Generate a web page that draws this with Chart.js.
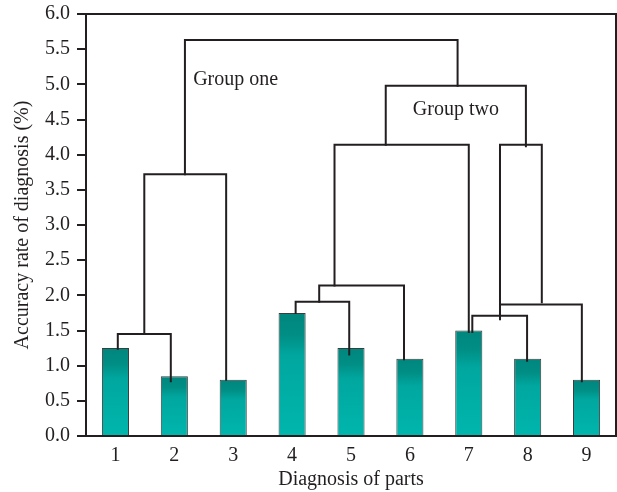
<!DOCTYPE html>
<html>
<head>
<meta charset="utf-8">
<script src="https://cdn.jsdelivr.net/npm/chart.js@4"></script>
<style>
  html, body { margin: 0; padding: 0; background: #fff; }
  #wrap { width: 617px; height: 492px; }
</style>
</head>
<body>
<div id="wrap"><canvas id="chart"></canvas></div>
<script>
// data
const parts = ["1", "2", "3", "4", "5", "6", "7", "8", "9"];
const accuracy = [1.25, 0.85, 0.8, 1.75, 1.25, 1.1, 1.5, 1.1, 0.8];
const yTicks = [0, 0.5, 1, 1.5, 2, 2.5, 3, 3.5, 4, 4.5, 5, 5.5, 6];

// dendrogram links: [left x, right x, join height, left leg bottom, right leg bottom]
// x is in category index units (0 = part "1")
const links = [
  [0.04, 0.94, 1.45, 1.24, 0.78],
  [0.49, 1.88, 3.72, 1.45, 0.80],
  [1.18, 5.81, 5.63, 3.72, 4.98],
  [4.59, 6.97, 4.98, 4.14, 4.12],
  [3.72, 6.00, 4.14, 2.14, 1.48],
  [3.46, 4.90, 2.14, 1.91, 1.09],
  [3.06, 3.97, 1.91, 1.75, 1.16],
  [6.53, 7.24, 4.14, 1.66, 1.90],
  [6.53, 7.92, 1.87, 1.87, 0.78],
  [6.06, 6.99, 1.71, 1.48, 1.07]
];

// group captions: [text, left x (index), y value]
const groupLabels = [
  ["Group one", 1.32, 5.06],
  ["Group two", 5.05, 4.64]
];

const ink = "#231f20";
const serif = "'Liberation Serif', 'DejaVu Serif', serif";

function barGradient(context) {
  const chart = context.chart;
  const y = chart.scales.y;
  if (!chart.chartArea || !y || context.dataIndex === undefined) return "#00aba3";
  const top = y.getPixelForValue(accuracy[context.dataIndex]);
  const base = y.getPixelForValue(0);
  const g = chart.ctx.createLinearGradient(0, top, 0, base);
  g.addColorStop(0, "#00867d");
  g.addColorStop(0.18, "#008e85");
  g.addColorStop(0.35, "#00a79f");
  g.addColorStop(1, "#00b6ad");
  return g;
}

const dendrogram = {
  id: "dendrogram",
  afterDatasetsDraw(chart) {
    const { ctx, chartArea, scales: { x, y } } = chart;
    ctx.save();
    ctx.strokeStyle = ink;
    ctx.lineWidth = 2;
    ctx.lineCap = "square";
    links.forEach(([xl, xr, h, bl, br]) => {
      ctx.beginPath();
      ctx.moveTo(x.getPixelForValue(xl), y.getPixelForValue(bl));
      ctx.lineTo(x.getPixelForValue(xl), y.getPixelForValue(h));
      ctx.lineTo(x.getPixelForValue(xr), y.getPixelForValue(h));
      ctx.lineTo(x.getPixelForValue(xr), y.getPixelForValue(br));
      ctx.stroke();
    });

    ctx.fillStyle = ink;
    ctx.font = "20px " + serif;
    ctx.textBaseline = "middle";
    ctx.textAlign = "left";
    groupLabels.forEach(([text, gx, gy]) => {
      ctx.fillText(text, x.getPixelForValue(gx), y.getPixelForValue(gy));
    });

    // frame around the plot
    ctx.lineCap = "butt";
    ctx.strokeRect(chartArea.left, chartArea.top, chartArea.right - chartArea.left, chartArea.bottom - chartArea.top);
    ctx.restore();
  }
};

new Chart(document.getElementById("chart"), {
  type: "bar",
  data: {
    labels: parts,
    datasets: [{
      data: accuracy,
      backgroundColor: barGradient,
      borderColor: "#3c3c3c",
      borderWidth: 1,
      barPercentage: 0.46,
      categoryPercentage: 1
    }]
  },
  options: {
    responsive: true,
    maintainAspectRatio: false,
    animation: false,
    layout: { padding: { top: 14, right: 1, left: 0, bottom: 0 } },
    plugins: { legend: { display: false }, tooltip: { enabled: false } },
    scales: {
      x: {
        grid: { display: false },
        border: { display: false },
        ticks: { color: ink, font: { family: serif, size: 20 }, padding: 0 },
        title: { display: true, text: "Diagnosis of parts", color: ink, font: { family: serif, size: 20 }, padding: { top: 2, bottom: 0 } },
        afterFit(scale) {
          scale.height = 56;
          scale.paddingLeft = 0;
          scale.paddingRight = 0;
        }
      },
      y: {
        min: 0,
        max: 6,
        afterBuildTicks(scale) { scale.ticks = yTicks.map(v => ({ value: v })); },
        grid: { drawOnChartArea: false, drawTicks: true, tickLength: 9, color: ink, lineWidth: 2 },
        border: { display: false },
        ticks: {
          color: ink,
          font: { family: serif, size: 20 },
          padding: 7,
          callback: v => Number(v).toFixed(1)
        },
        title: { display: true, text: "Accuracy rate of diagnosis (%)", color: ink, font: { family: serif, size: 20 }, padding: { top: 11, bottom: 0 } },
        afterFit(scale) {
          scale.width = 86;
          scale.paddingTop = 0;
          scale.paddingBottom = 0;
        }
      }
    }
  },
  plugins: [dendrogram]
});
</script>
</body>
</html>
